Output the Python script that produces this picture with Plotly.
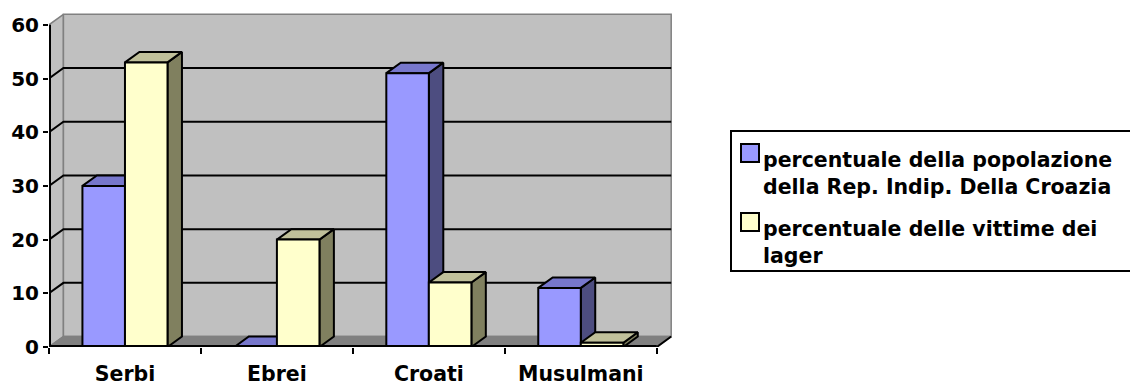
import plotly.graph_objects as go

# ---- data ----
categories = ["Serbi", "Ebrei", "Croati", "Musulmani"]
series_names = [
    "percentuale della popolazione della Rep. Indip. Della Croazia",
    "percentuale delle vittime dei lager",
]
popolazione = [30, 0, 51, 11]
vittime = [53, 20, 12, 0.8]
y_ticks = [0, 10, 20, 30, 40, 50, 60]

# ---- style ----
FONT = "DejaVu Sans"
BAR_W = 0.28
DX, DY = 0.095, 1.95          # 3D depth in axis units
X0, X1 = -0.5, len(categories) - 0.5
YMAX = y_ticks[-1]
WALL = "#C0C0C0"
FLOOR = "#808080"
BORDER = "#808080"
blue = dict(front="#9999FF", top="#7777CC", side="#4D4D80")
yellow = dict(front="#FFFFCC", top="#C0C09A", side="#80805F")

L, T, PW, PH = 49, 13, 626, 334
W, H = 1130, 386


def px2x(px):
    return (px - L) / PW


def py2y(py):
    return (T + PH - py) / PH


fig = go.Figure()


def poly(xs, ys, fill, line_color, lw=1.5, name=None):
    fig.add_trace(go.Scatter(
        x=xs, y=ys, mode="lines", fill="toself", fillcolor=fill,
        line=dict(color=line_color, width=lw), hoverinfo="skip",
        showlegend=False, name=name))


def line(xs, ys, color, lw):
    fig.add_trace(go.Scatter(x=xs, y=ys, mode="lines",
                             line=dict(color=color, width=lw),
                             hoverinfo="skip", showlegend=False))


# walls and floor
poly([X0, X0, X0 + DX, X0 + DX, X0], [0, YMAX, YMAX + DY, DY, 0], WALL, BORDER)
poly([X0 + DX, X1 + DX, X1 + DX, X0 + DX, X0 + DX],
     [DY, DY, YMAX + DY, YMAX + DY, DY], WALL, BORDER)
poly([X0, X1, X1 + DX, X0 + DX, X0], [0, 0, DY, DY, 0], FLOOR, BORDER)

# gridlines (side wall + back wall)
for v in y_ticks[1:-1]:
    line([X0, X0 + DX, X1 + DX], [v, v + DY, v + DY], "black", 2)


def faces(values, offset, colors, name):
    fx, fy, tx, ty, sx, sy = [], [], [], [], [], []
    for i, v in enumerate(values):
        a = i + offset
        b = a + BAR_W
        fx += [a, b, b, a, a, None]
        fy += [0, 0, v, v, 0, None]
        tx += [a, b, b + DX, a + DX, a, None]
        ty += [v, v, v + DY, v + DY, v, None]
        sx += [b, b + DX, b + DX, b, b, None]
        sy += [0, DY, v + DY, v, 0, None]
    poly(sx, sy, colors["side"], "black", 2, name)
    poly(tx, ty, colors["top"], "black", 2, name)
    poly(fx, fy, colors["front"], "black", 2, name)


faces(popolazione, -BAR_W, blue, series_names[0])
faces(vittime, 0.0, yellow, series_names[1])

# axis lines
line([X0, X0], [0, YMAX], "black", 4)
line([X0, X1], [0, 0], "black", 4)
line([X1, X1 + DX], [0, DY], "black", 2)

# manual legend
shapes = [
    dict(type="rect", xref="paper", yref="paper",
         x0=px2x(731), x1=px2x(1136), y0=py2y(271), y1=py2y(131),
         line=dict(color="black", width=2), fillcolor="white", layer="below"),
    dict(type="rect", xref="paper", yref="paper",
         x0=px2x(741), x1=px2x(759), y0=py2y(162), y1=py2y(144),
         line=dict(color="black", width=2), fillcolor=blue["front"]),
    dict(type="rect", xref="paper", yref="paper",
         x0=px2x(741), x1=px2x(759), y0=py2y(231), y1=py2y(213),
         line=dict(color="black", width=2), fillcolor=yellow["front"]),
]
legend_lines = [
    "percentuale della popolazione<br>della Rep. Indip. Della Croazia",
    "percentuale delle vittime dei<br>lager",
]
annotations = [
    dict(xref="paper", yref="paper", x=px2x(761), y=py2y(146),
         xanchor="left", yanchor="top", align="left", showarrow=False,
         text=legend_lines[0],
         font=dict(family=FONT, size=20.5, color="black", weight="bold")),
    dict(xref="paper", yref="paper", x=px2x(761), y=py2y(215),
         xanchor="left", yanchor="top", align="left", showarrow=False,
         text=legend_lines[1],
         font=dict(family=FONT, size=20.5, color="black", weight="bold")),
]

fig.update_layout(
    width=W, height=H,
    margin=dict(l=L, r=W - L - PW, t=T, b=H - T - PH),
    paper_bgcolor="white", plot_bgcolor="white",
    showlegend=False,
    shapes=shapes, annotations=annotations,
    xaxis=dict(range=[X0, X1 + 0.12], tickmode="array",
               tickvals=list(range(len(categories))), ticktext=categories,
               ticks="", showgrid=False, zeroline=False, showline=False,
               ticklabelstandoff=12, automargin=False,
               tickfont=dict(family=FONT, size=20.5, color="black", weight="bold"),
               minor=dict(tickmode="array",
                          tickvals=[X0 + k for k in range(len(categories) + 1)],
                          ticks="outside", ticklen=6, tickwidth=2,
                          tickcolor="black", showgrid=False),
               fixedrange=True),
    yaxis=dict(range=[0, PH / 5.37], tickmode="array", tickvals=y_ticks,
               ticks="outside", ticklen=5, tickwidth=2, tickcolor="black",
               showgrid=False, zeroline=False, showline=False,
               automargin=False,
               tickfont=dict(family=FONT, size=20, color="black", weight="bold"),
               fixedrange=True),
)

fig.write_html("out.html")
